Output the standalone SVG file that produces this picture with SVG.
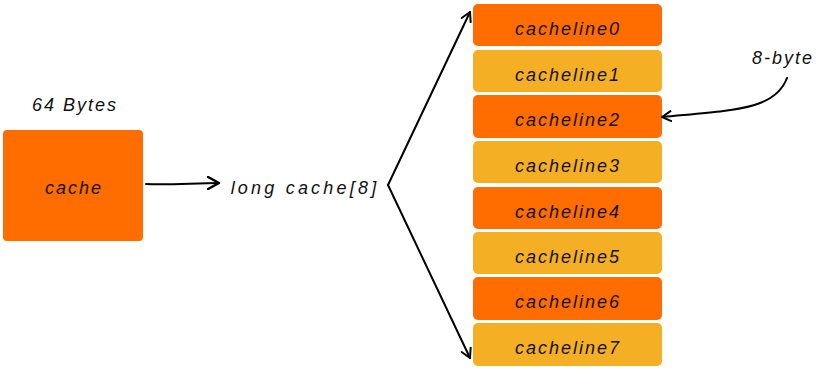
<svg xmlns="http://www.w3.org/2000/svg" width="834" height="380" viewBox="0 0 834 380">
<defs>
<style>
.t{font-family:"Liberation Sans","DejaVu Sans",sans-serif;font-style:italic;font-size:18px;letter-spacing:2px;fill:#111;text-anchor:middle}
.o{fill:#FF6D00}
.y{fill:#F5AF24}
.c{fill:none;stroke:#000;stroke-width:2;stroke-linecap:round;stroke-linejoin:round}
</style>
<marker id="ah" viewBox="0 0 12 12" refX="10" refY="6" markerWidth="12" markerHeight="12" markerUnits="userSpaceOnUse" orient="auto">
<path d="M1,1 L10,6 L1,11" fill="none" stroke="#000" stroke-width="2" stroke-linecap="round" stroke-linejoin="round"/>
</marker>
<marker id="ah2" viewBox="0 0 14 14" refX="12" refY="7" markerWidth="14" markerHeight="14" markerUnits="userSpaceOnUse" orient="auto">
<path d="M1,1 L12,7 L1,13" fill="none" stroke="#000" stroke-width="2.5" stroke-linecap="round" stroke-linejoin="round"/>
</marker>
</defs>
<rect width="834" height="380" fill="#fff"/>
<g id="cache">
<rect class="o" x="3" y="130" width="140" height="111" rx="4"/>
<text class="t" x="74" y="194">cache</text>
</g>
<text class="t" x="75" y="111">64 Bytes</text>
<g id="array">
<text class="t" x="305" y="194" style="letter-spacing:3.2px">long cache[8]</text>
</g>
<g id="cachelines">
<g id="cl0"><rect class="o" x="473" y="4" width="189" height="42" rx="5"/><text class="t" x="568" y="35">cacheline0</text></g>
<g id="cl1"><rect class="y" x="473" y="50" width="189" height="42" rx="5"/><text class="t" x="568" y="81">cacheline1</text></g>
<g id="cl2"><rect class="o" x="473" y="95" width="189" height="43" rx="5"/><text class="t" x="568" y="126">cacheline2</text></g>
<g id="cl3"><rect class="y" x="473" y="141" width="189" height="42" rx="5"/><text class="t" x="568" y="172">cacheline3</text></g>
<g id="cl4"><rect class="o" x="473" y="187" width="189" height="42" rx="5"/><text class="t" x="568" y="218">cacheline4</text></g>
<g id="cl5"><rect class="y" x="473" y="232" width="189" height="42" rx="5"/><text class="t" x="568" y="263">cacheline5</text></g>
<g id="cl6"><rect class="o" x="473" y="277" width="189" height="43" rx="5"/><text class="t" x="568" y="308">cacheline6</text></g>
<g id="cl7"><rect class="y" x="473" y="323" width="189" height="43" rx="5"/><text class="t" x="568" y="354">cacheline7</text></g>
</g>
<g id="note">
<text class="t" x="783" y="64">8-byte</text>
</g>
<g id="connectors">
<path class="c" d="M146,184 C170,185 195,183 219,183" stroke-width="3" marker-end="url(#ah2)"/>
<path class="c" d="M388,185 L470,12" marker-end="url(#ah)"/>
<path class="c" d="M388,185 L470,358" marker-end="url(#ah)"/>
<path class="c" d="M787,78 C775,110 735,110 662,117" marker-end="url(#ah)"/>
</g>
</svg>
